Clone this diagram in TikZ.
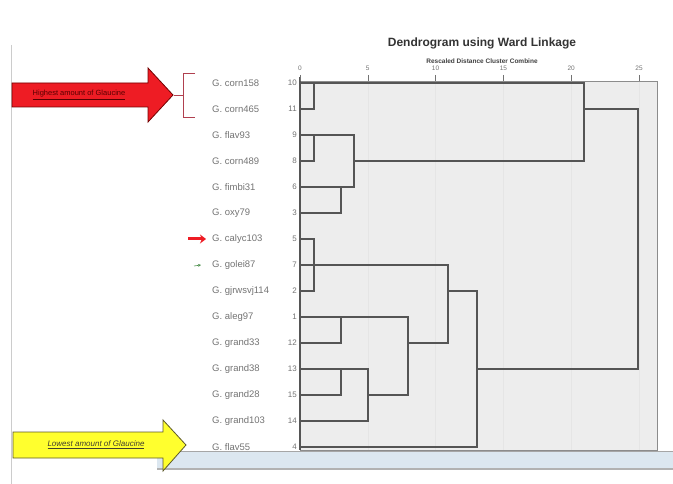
\documentclass[tikz,border=0pt]{standalone}
\usepackage{fontspec}
\setmainfont{Liberation Sans}
\usetikzlibrary{positioning,calc,arrows.meta}
\definecolor{panelgray}{HTML}{EDEDED}
\definecolor{linkgray}{HTML}{555555}
\definecolor{arrowred}{HTML}{EE1C24}
\definecolor{arrowyellow}{HTML}{FFFF2E}
\definecolor{bandblue}{HTML}{DCE7F0}
\definecolor{bracketred}{HTML}{B0404F}

\begin{document}
\begin{tikzpicture}[x=1pt, y=-1pt,
    leaf/.style={anchor=west, inner sep=0pt, text=black!55, font=\fontsize{9.5}{10}\selectfont},
    num/.style={inner sep=0pt, text=black!55, font=\fontsize{8}{9}\selectfont},
    tick/.style={inner sep=0pt, text=black!55, font=\fontsize{6.5}{7}\selectfont},
    link/.style={draw=linkgray, line width=1.1pt},
    arrowtext/.style={inner sep=0pt, font=\fontsize{7.5}{8}\selectfont}]
\useasboundingbox (0,0) rectangle (673,484);

% left frame line and bottom band
\draw[black!20] (11,45) -- (11,484);
\fill[bandblue] (157,451) rectangle (673,468);
\draw[black!35] (157,451) -- (673,451);
\draw[black!30, line width=1.5pt] (157,469) -- (673,469);

% panel
\fill[panelgray] (300,81) rectangle (657,450);
\foreach \v in {5,10,...,25}
    \draw[black!10] ({300+13.56*\v},81) -- ({300+13.56*\v},450);
\draw[black!45] (300,81) rectangle (657,450);
\draw[linkgray, line width=1.2pt] (300,77) -- (300,450);

% title and axis
\node[font=\bfseries\fontsize{12}{14}\selectfont, text=black!80] (title) at (482,43) {Dendrogram using Ward Linkage};
\node[below=3pt of title, font=\bfseries\fontsize{6.5}{7}\selectfont, text=black!75] (sub) {Rescaled Distance Cluster Combine};
\foreach \v in {0,5,...,25}{
    \draw[black!55] ({300+13.56*\v},75) -- ({300+13.56*\v},81);
    \node[tick] (t\v) at ({300+13.56*\v},68) {\v};
}

% rows
\foreach \lab/\num [count=\i] in {G. corn158/10, G. corn465/11, G. flav93/9, G. corn489/8, G. fimbi31/6, G. oxy79/3, G. calyc103/5, G. golei87/7, G. gjrwsvj114/2, G. aleg97/1, G. grand33/12, G. grand38/13, G. grand28/15, G. grand103/14, G. flav55/4}{
    \coordinate (r\i) at (300,{57+26*\i});
    \node[leaf] (l\i) at (212,{57+26*\i}) {\lab};
    \node[num, left=3pt of r\i] (n\i) {\num};
}

% dendrogram
\draw[link] (r1) -- ++(284,0) -- ++(0,78) -- ++(-230,0);
\draw[link] (r2) -- ++(14,0) -- ++(0,-26);
\draw[link] (r3) -- ++(54,0) -- ++(0,52) -- (r5);
\draw[link] (r4) -- ++(14,0) -- ++(0,-26);
\draw[link] (r6) -- ++(41,0) -- ++(0,-26);
\draw[link] ($(r2)+(284,0)$) -- ++(54,0) -- ++(0,260) -- ++(-161,0);
\draw[link] (r7) -- ++(14,0) -- ++(0,52) -- (r9);
\draw[link] (r8) -- ++(148,0) -- ++(0,78) -- ++(-40,0);
\draw[link] (r10) -- ++(108,0) -- ++(0,78) -- ++(-40,0);
\draw[link] (r11) -- ++(41,0) -- ++(0,-26);
\draw[link] (r12) -- ++(68,0) -- ++(0,52) -- (r14);
\draw[link] (r13) -- ++(41,0) -- ++(0,-26);
\draw[link] ($(r9)+(148,0)$) -- ++(29,0) -- ++(0,156) -- (r15);

% red arrow and bracket
\draw[fill=arrowred, draw=red!45!black, line width=0.8pt]
    (12,83) -- (148,83) -- (148,68) -- (173,95) -- (148,122) -- (148,107) -- (12,107) -- cycle;
\node[arrowtext, text=red!35!black] (high) at (79,95) {\underline{Highest amount of Glaucine}};
\draw[bracketred, line width=0.9pt] (195,73) -- (183,73) -- (183,117) -- (195,117);
\draw[bracketred, line width=0.9pt] (174,95) -- (183,95);

% yellow arrow
\draw[fill=arrowyellow, draw=black!45!olive, line width=0.8pt]
    (13,432) -- (163,432) -- (163,420) -- (186,445) -- (163,471) -- (163,458) -- (13,458) -- cycle;
\node[arrowtext, text=black!70!olive, font=\itshape\fontsize{8}{9}\selectfont] (low) at (96,445) {\underline{Lowest amount of Glaucine}};

% small markers
\coordinate (m7) at (188,239);
\draw[arrowred, line width=3pt, -{Stealth[length=6pt, width=9pt]}] (m7) -- ([xshift=-6pt]l7.west);
\coordinate (m8) at (194,266);
\draw[black!35!green!40!gray, line width=0.6pt, -{Stealth[length=3pt, width=3pt]}] (m8) -- ([xshift=-11pt]l8.west);
\end{tikzpicture}
\end{document}
